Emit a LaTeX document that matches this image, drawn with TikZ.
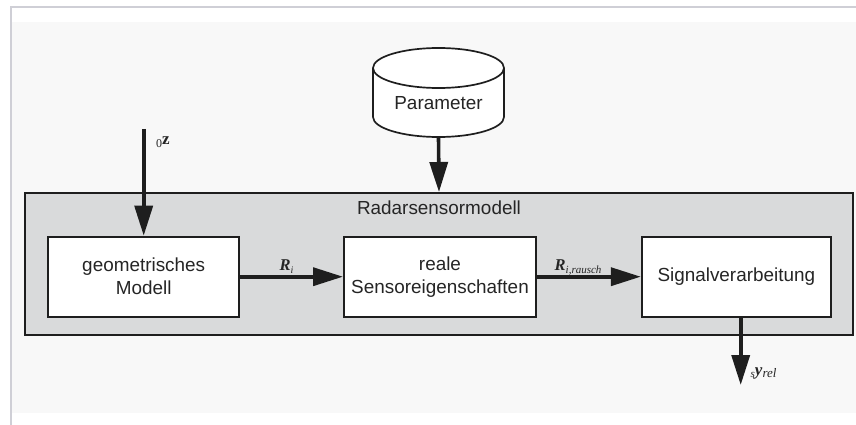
\documentclass[tikz,border=0pt]{standalone}
\usepackage{fontspec}
\setmainfont{Liberation Sans}
\newfontfamily\lserif{Liberation Serif}
\usetikzlibrary{arrows.meta}
\definecolor{ink}{HTML}{1E1E1E}
\definecolor{txt}{HTML}{252525}
\definecolor{panel}{HTML}{D9DADB}
\definecolor{bgl}{HTML}{F8F8F8}
\definecolor{framec}{HTML}{CFCFD6}
\begin{document}
\begin{tikzpicture}[x=1pt,y=1pt,
  font=\fontsize{18.9}{23}\selectfont,
  block/.style={draw=ink, line width=2pt, fill=white, minimum width=191pt,
    minimum height=80pt, align=center, inner sep=0pt, text=txt},
  flow/.style={draw=ink, line width=3.6pt, -{Triangle[length=30pt,width=18pt]}},
  lbl/.style={anchor=base west, inner sep=0pt, text=txt}]
\useasboundingbox (0,0) rectangle (856,-425);
\fill[white] (0,0) rectangle (856,-425);
\fill[bgl] (12,-22) rectangle (856,-413);
\draw[framec, line width=2pt] (11,-425) -- (11,-7.5) -- (856,-7.5);

% main panel
\node[draw=ink, line width=2pt, fill=panel, minimum width=828pt,
  minimum height=142pt, inner sep=0pt] (main) at (439,-264) {};
\node[text=txt] (title) at (439,-208) {Radarsensormodell};

% blocks
\node[block] (geo) at (143.7,-276.7) {geometrisches\\Modell};
\node[block, minimum width=192pt] (real) at (440,-276.7) {reale\\Sensoreigenschaften};
\node[block, minimum width=189pt] (sig) at (736.3,-276.7) {Signalverarbeitung};

% cylinder
\draw[ink, line width=1.7pt, fill=white] (373,-68) -- (373,-117)
  arc[start angle=180, end angle=360, x radius=65.5, y radius=20] -- (504,-68);
\draw[ink, line width=1.7pt, fill=white] (438.5,-68) ellipse[x radius=65.5, y radius=20];
\node[text=txt] (param) at (438.5,-103.5) {Parameter};
\coordinate (pbot) at (438.5,-137);

% connectors
\coordinate (zin) at (143.7,-129);
\coordinate (yout) at (740.7,-385);
\draw[flow] (pbot) -- (main.north);
\draw[flow] (zin) -- (geo.north);
\draw[flow] (geo.east) -- (real.west);
\draw[flow] (real.east) -- (sig.west);
\draw[flow] (sig.south -| yout) -- (yout);

% labels
\node[lbl] (zlab) at (156,-144) {\lserif\raisebox{-3.5pt}{\fontsize{12}{12}\selectfont 0}{\fontsize{17}{17}\selectfont\bfseries z}};
\node[lbl] (rilab) at (279.5,-270.5) {\lserif\fontsize{16.5}{16.5}\selectfont\bfseries\itshape R\raisebox{-2.5pt}{\fontsize{10}{10}\selectfont\mdseries i}};
\node[lbl] (rrlab) at (554.5,-270.5) {\lserif\fontsize{16.5}{16.5}\selectfont\bfseries\itshape R\raisebox{-2.5pt}{\fontsize{11}{11}\selectfont\mdseries i,rausch}};
\node[lbl] (ylab) at (750.5,-375) {\lserif\itshape\raisebox{-2pt}{\fontsize{11}{11}\selectfont s}{\fontsize{17}{17}\selectfont\bfseries y}\raisebox{-2.5pt}{\fontsize{13}{13}\selectfont rel}};
\end{tikzpicture}
\end{document}
